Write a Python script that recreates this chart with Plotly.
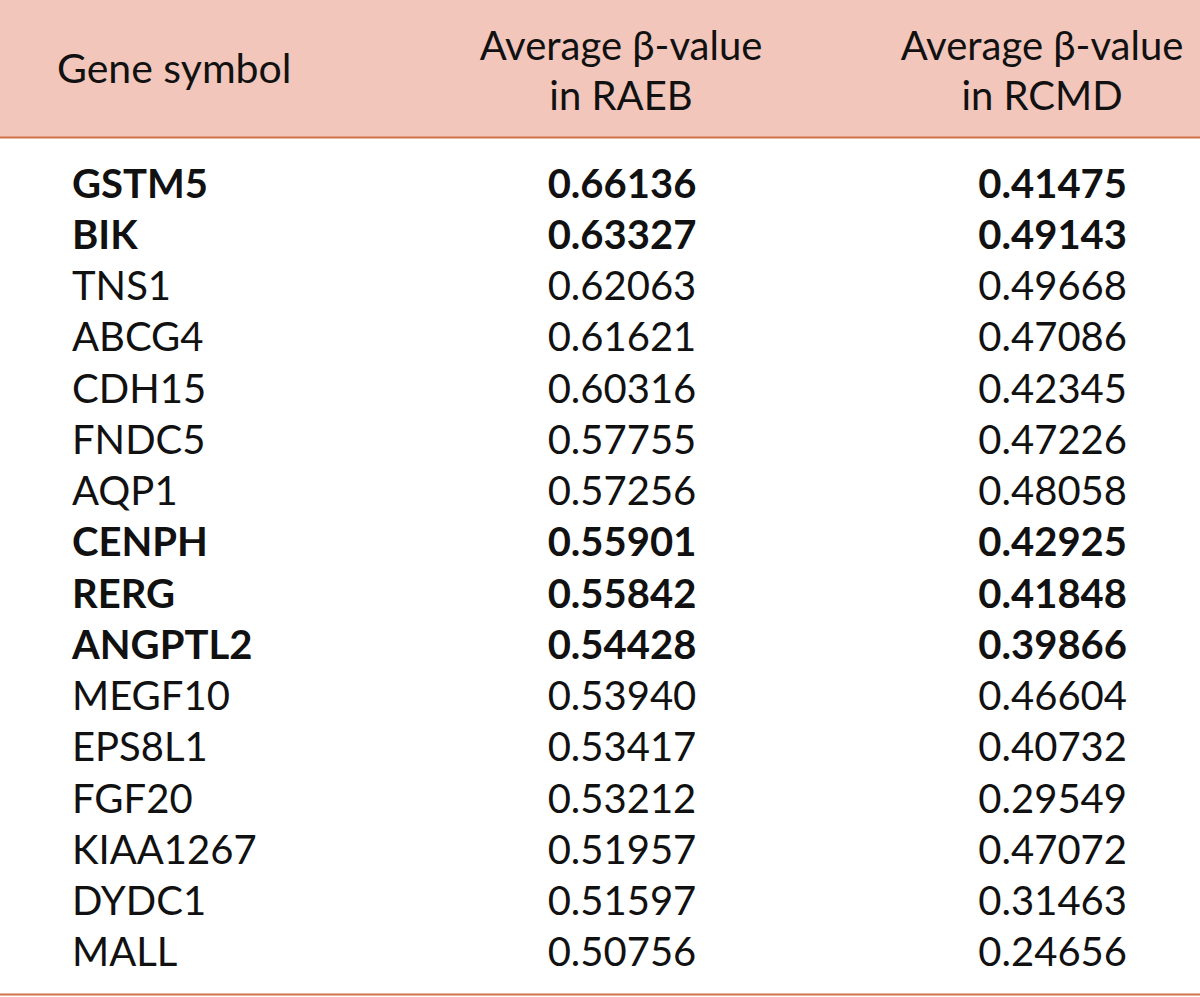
import plotly.graph_objects as go

genes = ["GSTM5", "BIK", "TNS1", "ABCG4", "CDH15", "FNDC5", "AQP1", "CENPH",
         "RERG", "ANGPTL2", "MEGF10", "EPS8L1", "FGF20", "KIAA1267", "DYDC1", "MALL"]
raeb = ["0.66136", "0.63327", "0.62063", "0.61621", "0.60316", "0.57755", "0.57256", "0.55901",
        "0.55842", "0.54428", "0.53940", "0.53417", "0.53212", "0.51957", "0.51597", "0.50756"]
rcmd = ["0.41475", "0.49143", "0.49668", "0.47086", "0.42345", "0.47226", "0.48058", "0.42925",
        "0.41848", "0.39866", "0.46604", "0.40732", "0.29549", "0.47072", "0.31463", "0.24656"]
bold = [True, True, False, False, False, False, False, True,
        True, True, False, False, False, False, False, False]
headers = ["Gene symbol", "Average β-value<br>in RAEB", "Average β-value<br>in RCMD"]

W, H = 1200, 997
FONT = "Lato"
FS = 40
HEADER_FILL = "#F2C6BA"
LINE_COLOR = "#D2704A"
DY = 5  # vertical correction for text anchoring

row0, step = 182.5, 51.25
ys = [row0 + DY + i * step for i in range(len(genes))]

def fmt(s, b):
    return f"<b>{s}</b>" if b else s

fig = go.Figure()

# header background and rules
fig.add_shape(type="rect", x0=0, x1=W, y0=0, y1=137, xref="x", yref="y",
              fillcolor=HEADER_FILL, line_width=0, layer="below")
fig.add_shape(type="line", x0=0, x1=W, y0=137.5, y1=137.5, xref="x", yref="y",
              line=dict(color=LINE_COLOR, width=2))
fig.add_shape(type="line", x0=0, x1=W, y0=994.5, y1=994.5, xref="x", yref="y",
              line=dict(color=LINE_COLOR, width=2))

# header text
fig.add_trace(go.Scatter(x=[57], y=[68 + DY], text=[headers[0]], mode="text",
                         textposition="middle right",
                         textfont=dict(family=FONT, size=41, color="#111111"),
                         hoverinfo="skip", showlegend=False))
for cx, h in [(621, headers[1]), (1042, headers[2])]:
    lines = h.split("<br>")
    fig.add_trace(go.Scatter(x=[cx] * len(lines), y=[45 + DY, 95 + DY], text=lines, mode="text",
                             textposition="middle center",
                             textfont=dict(family=FONT, size=FS, color="#111111"),
                             hoverinfo="skip", showlegend=False))

# body
fig.add_trace(go.Scatter(x=[72] * len(genes), y=ys,
                         text=[fmt(g, b) for g, b in zip(genes, bold)],
                         mode="text", textposition="middle right",
                         textfont=dict(family=FONT, size=FS, color="#111111"),
                         hoverinfo="skip", showlegend=False))
fig.add_trace(go.Scatter(x=[622] * len(raeb), y=ys,
                         text=[fmt(v, b) for v, b in zip(raeb, bold)],
                         mode="text", textposition="middle center",
                         textfont=dict(family=FONT, size=FS, color="#111111"),
                         hoverinfo="skip", showlegend=False))
fig.add_trace(go.Scatter(x=[1127] * len(rcmd), y=ys,
                         text=[fmt(v, b) for v, b in zip(rcmd, bold)],
                         mode="text", textposition="middle left",
                         textfont=dict(family=FONT, size=FS, color="#111111"),
                         hoverinfo="skip", showlegend=False))

fig.update_layout(
    width=W, height=H,
    margin=dict(l=0, r=0, t=0, b=0),
    paper_bgcolor="white", plot_bgcolor="white",
    xaxis=dict(range=[0, W], visible=False, fixedrange=True),
    yaxis=dict(range=[H, 0], visible=False, fixedrange=True),
)

fig.write_html("out.html", config={"displayModeBar": False},
               post_script="document.body.style.margin='0';document.body.style.overflow='hidden';")
